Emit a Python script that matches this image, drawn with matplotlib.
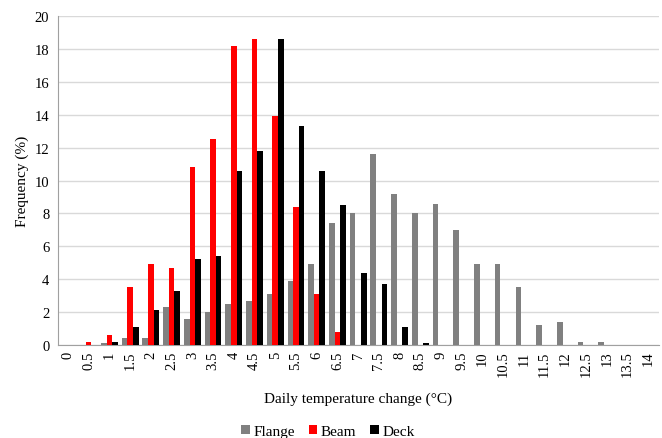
import matplotlib
matplotlib.use("Agg")
import matplotlib.pyplot as plt
import numpy as np

plt.rcParams['font.family'] = ['Liberation Serif', 'DejaVu Serif']

categories = ["0", "0.5", "1", "1.5", "2", "2.5", "3", "3.5", "4", "4.5", "5", "5.5", "6", "6.5",
              "7", "7.5", "8", "8.5", "9", "9.5", "10", "10.5", "11", "11.5", "12", "12.5", "13", "13.5", "14"]
flange = [0, 0, 0.1, 0.4, 0.4, 2.3, 1.6, 2.0, 2.5, 2.7, 3.1, 3.9, 4.9, 7.4,
          8.0, 11.6, 9.2, 8.0, 8.6, 7.0, 4.9, 4.9, 3.5, 1.2, 1.4, 0.2, 0.2, 0, 0]
beam = [0, 0.2, 0.6, 3.5, 4.9, 4.7, 10.8, 12.5, 18.2, 18.6, 13.9, 8.4, 3.1, 0.8,
        0, 0, 0, 0, 0, 0, 0, 0, 0, 0, 0, 0, 0, 0, 0]
deck = [0, 0, 0.15, 1.1, 2.1, 3.3, 5.2, 5.4, 10.6, 11.8, 18.6, 13.3, 10.6, 8.5,
        4.4, 3.7, 1.1, 0.1, 0, 0, 0, 0, 0, 0, 0, 0, 0, 0, 0]

fig = plt.figure(figsize=(6.62, 4.39), dpi=100)
ax = fig.add_axes([0.087, 0.212, 0.908, 0.749])

x = np.arange(len(categories))
w = 0.27
ax.bar(x - w, flange, w, color='#808080', label='Flange', zorder=3)
ax.bar(x, beam, w, color='#ff0000', label='Beam', zorder=3)
ax.bar(x + w, deck, w, color='#000000', label='Deck', zorder=3)

ax.set_xlim(-0.5, len(categories) - 0.5)
ax.set_ylim(0, 20)
ax.set_yticks(np.arange(0, 21, 2))
ax.set_xticks(x)
ax.set_xticklabels(categories, rotation=90, fontsize=10.5)
ax.tick_params(axis='y', labelsize=10.5, length=0, pad=6)
ax.tick_params(axis='x', length=0, pad=4)
ax.grid(axis='y', color='#d9d9d9', linewidth=1, zorder=0)
ax.set_axisbelow(True)
for s in ['top', 'right']:
    ax.spines[s].set_visible(False)
ax.spines['left'].set_color('#a0a0a0')
ax.spines['bottom'].set_color('#a0a0a0')

ax.set_ylabel('Frequency (%)', fontsize=11)
ax.set_xlabel('Daily temperature change (°C)', fontsize=11, labelpad=11)

ax.legend(loc='center', bbox_to_anchor=(0.45, -0.262), ncol=3, frameon=False,
          prop={'family': ['Liberation Serif', 'DejaVu Serif'], 'size': 11},
          handlelength=0.55, handleheight=0.55, handletextpad=0.25, columnspacing=0.9,
          borderpad=0.1)

fig.savefig('out.png', dpi=100)
